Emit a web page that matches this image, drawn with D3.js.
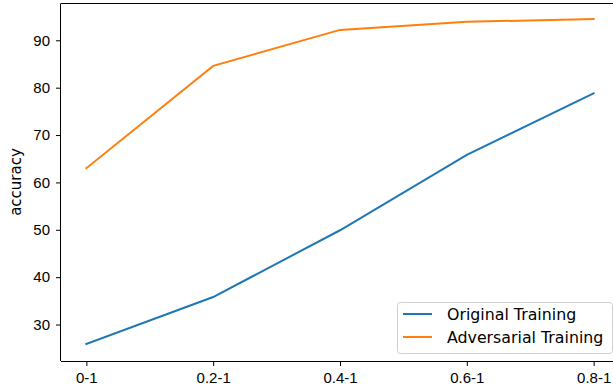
<!DOCTYPE html>
<meta charset="utf-8">
<style>
body { margin: 0; background: #fff; }
svg { display: block; font-family: "DejaVu Sans", sans-serif; }
.axis path, .axis line { stroke: #000; stroke-width: 1px; }
.axis text { font-size: 15px; fill: #000; }
</style>
<svg width="613" height="389"></svg>
<script src="https://d3js.org/d3.v7.min.js"></script>
<script>
var categories = ["0-1", "0.2-1", "0.4-1", "0.6-1", "0.8-1"];
var originalTraining = [25.9, 35.8, 49.9, 65.8, 78.8];
var adversarialTraining = [63.0, 84.6, 92.2, 93.9, 94.5];
var yTicks = [30, 40, 50, 60, 70, 80, 90];
var seriesNames = ["Original Training", "Adversarial Training"];
var colors = ["#1f77b4", "#ff7f0e"];

var svg = d3.select("svg"),
    margin = {top: 3.5, right: -6, bottom: 28, left: 61},
    width = 613 - margin.left - margin.right,
    height = 389 - margin.top - margin.bottom;

var g = svg.append("g").attr("transform", "translate(" + margin.left + "," + margin.top + ")");

// matplotlib style: 5% margins on x
var x = d3.scalePoint().domain(categories).range([width * 0.04545, width * (1 - 0.04545)]);
var y = d3.scaleLinear().domain([22.3, 97.77]).range([height, 0]);

g.append("g")
  .attr("class", "axis")
  .attr("transform", "translate(0," + height + ")")
  .call(d3.axisBottom(x).tickSize(5).tickPadding(6))
  .select(".domain").attr("d", "M0,0.5H" + width);

g.append("g")
  .attr("class", "axis")
  .call(d3.axisLeft(y).tickValues(yTicks).tickSize(5).tickPadding(6))
  .select(".domain").attr("d", "M-0.5," + height + "V0");

// top spine
g.append("line").attr("x1", 0).attr("x2", width).attr("y1", 0).attr("y2", 0)
  .attr("stroke", "#000");

var line = d3.line()
  .x(function(d, i) { return x(categories[i]); })
  .y(function(d) { return y(d); });

[originalTraining, adversarialTraining].forEach(function(s, i) {
  g.append("path").datum(s)
    .attr("fill", "none")
    .attr("stroke", colors[i])
    .attr("stroke-width", 2)
    .attr("stroke-linecap", "square")
    .attr("d", line);
});

svg.append("text")
  .attr("transform", "translate(21,182) rotate(-90)")
  .attr("text-anchor", "middle")
  .attr("font-size", 15)
  .text("accuracy");

var legend = svg.append("g").attr("transform", "translate(397,302)");
legend.append("rect")
  .attr("x", 0.5).attr("y", 0.5).attr("width", 215).attr("height", 51)
  .attr("rx", 3).attr("fill", "#fff").attr("fill-opacity", 0.8)
  .attr("stroke", "#d0d0d0");
seriesNames.forEach(function(n, i) {
  var yy = 12 + i * 23;
  legend.append("line").attr("x1", 6).attr("x2", 35).attr("y1", yy).attr("y2", yy)
    .attr("stroke", colors[i]).attr("stroke-width", 2);
  legend.append("text").attr("x", 50).attr("y", yy + 5.5)
    .attr("font-size", 15.8).text(n);
});
</script>
